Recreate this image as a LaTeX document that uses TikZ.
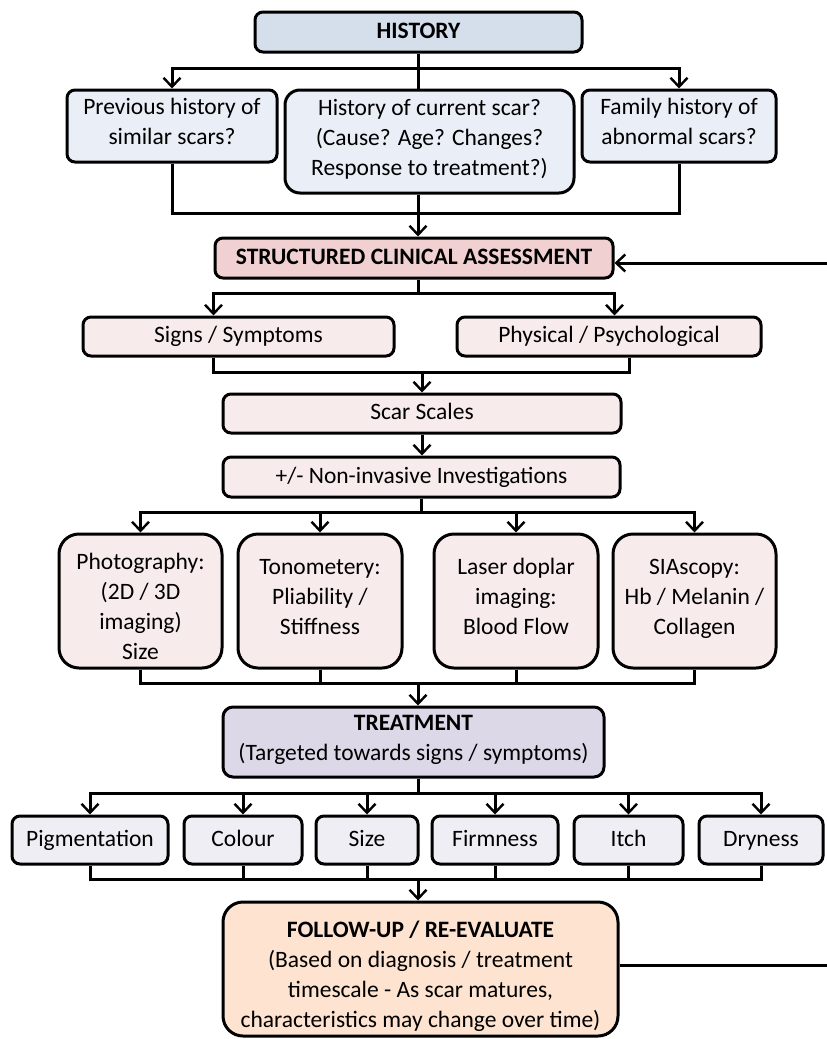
\documentclass[tikz,border=0pt]{standalone}
\usepackage{fontspec}
\setmainfont{Carlito}
\usepackage{tikz}
\usetikzlibrary{arrows.meta}

\definecolor{histhead}{HTML}{D5DFEC}
\definecolor{histsub}{HTML}{EAEFF7}
\definecolor{assesshead}{HTML}{F0D0D0}
\definecolor{assesssub}{HTML}{F7EBEB}
\definecolor{treathead}{HTML}{DDD8E8}
\definecolor{treatsub}{HTML}{EFEEF5}
\definecolor{followup}{HTML}{FDE3D0}

\newcommand{\lowline}{\rule{0pt}{35pt}}

\begin{document}
\begin{tikzpicture}[
            x=1pt, y=-1pt,
            box/.style={draw=black, line width=3pt, rounded corners=8pt, align=center, inner sep=0pt, font=\fontsize{23.5}{30}\selectfont, execute at begin node={\strut}, execute at end node={\strut}},
            bigbox/.style={box, rounded corners=20pt},
            headbox/.style={box, font=\fontsize{23.5}{30}\selectfont\bfseries},
            link/.style={line width=3pt, line join=miter},
            arr/.style={link, -{Straight Barb[length=9pt, width=17pt, line width=2.4pt]}},
            twoarr/.style={link, {Straight Barb[length=9pt, width=17pt, line width=2.4pt]}-{Straight Barb[length=9pt, width=17pt, line width=2.4pt]}}
        ]
            \useasboundingbox (0,0) rectangle (827,1039);

            % history
            \node[headbox, fill=histhead, minimum width=327pt, minimum height=40pt] (hist) at (418.5, 32) {HISTORY};
            \node[box, fill=histsub, minimum width=210pt, minimum height=72pt] (prev) at (172, 126) {Previous history of\\similar scars?};
            \node[box, fill=histsub, rounded corners=15pt, minimum width=289pt, minimum height=103pt] (curr) at (429.5, 141.5) {History of current scar?\\(Cause? Age? Changes?\\Response to treatment?)};
            \node[box, fill=histsub, minimum width=194pt, minimum height=72pt] (fam) at (679, 126) {Family history of\\abnormal scars?};

            % assessment
            \node[headbox, fill=assesshead, minimum width=398pt, minimum height=40pt] (assess) at (414, 258) {STRUCTURED CLINICAL ASSESSMENT};
            \node[box, fill=assesssub, minimum width=311pt, minimum height=39pt] (signs) at (238.5, 336.5) {Signs / Symptoms};
            \node[box, fill=assesssub, minimum width=304pt, minimum height=39pt] (phys) at (609, 336.5) {Physical / Psychological};
            \node[box, fill=assesssub, minimum width=398pt, minimum height=39pt] (scales) at (422, 413.5) {Scar Scales};
            \node[box, fill=assesssub, minimum width=397pt, minimum height=40pt] (invest) at (421.5, 477) {+/- Non-invasive Investigations};

            % investigations
            \node[bigbox, fill=assesssub, minimum width=163pt, minimum height=134pt] (photo) at (140.5, 601) {\lowline Photography:\\(2D / 3D\\imaging)\\Size};
            \node[bigbox, fill=assesssub, minimum width=164pt, minimum height=134pt] (tono) at (320, 601) {Tonometery:\\Pliability /\\Stiffness};
            \node[bigbox, fill=assesssub, minimum width=164pt, minimum height=134pt] (laser) at (516, 601) {Laser doplar\\imaging:\\Blood Flow};
            \node[bigbox, fill=assesssub, minimum width=163pt, minimum height=134pt] (sia) at (694.5, 601) {SIAscopy:\\Hb / Melanin /\\Collagen};

            % treatment
            \node[box, fill=treathead, rounded corners=10pt, minimum width=381pt, minimum height=70pt] (treat) at (413.5, 742) {\textbf{TREATMENT}\\(Targeted towards signs / symptoms)};
            \node[box, fill=treatsub, minimum width=156pt, minimum height=48pt] (pig) at (90, 840) {Pigmentation};
            \node[box, fill=treatsub, minimum width=118pt, minimum height=48pt] (colour) at (243, 840) {Colour};
            \node[box, fill=treatsub, minimum width=102pt, minimum height=48pt] (size) at (367, 840) {Size};
            \node[box, fill=treatsub, minimum width=126pt, minimum height=48pt] (firm) at (495, 840) {Firmness};
            \node[box, fill=treatsub, minimum width=109pt, minimum height=48pt] (itch) at (628.5, 840) {Itch};
            \node[box, fill=treatsub, minimum width=124pt, minimum height=48pt] (dry) at (761, 840) {Dryness};

            % follow-up
            \node[bigbox, fill=followup, minimum width=395pt, minimum height=134pt] (follow) at (420.5, 969) {\lowline\textbf{FOLLOW-UP / RE-EVALUATE}\\(Based on diagnosis / treatment\\timescale - As scar matures,\\characteristics may change over time)};

            % junction rows
            \coordinate (spine) at (418, 0);
            \coordinate (row1) at (0, 68);
            \coordinate (row2) at (0, 213);
            \coordinate (row3) at (0, 293);
            \coordinate (row4) at (0, 372);
            \coordinate (row5) at (0, 512);
            \coordinate (row6) at (0, 683);
            \coordinate (row7) at (0, 793);
            \coordinate (row8) at (0, 879);
            \coordinate (physdown) at (629, 372);
            \coordinate (loopbot) at (827, 965);
            \coordinate (looptop) at (827, 263);

            % history links
            \draw[link] (spine |- hist.south) -- (spine |- curr.north);
            \draw[twoarr] (prev.north) -- (prev.north |- row1) -- (fam.north |- row1) -- (fam.north);
            \draw[link] (prev.south) -- (prev.south |- row2) -- (fam.south |- row2) -- (fam.south);
            \draw[arr] (spine |- curr.south) -- (spine |- assess.north);

            % assessment links
            \draw[link] (spine |- assess.south) -- (spine |- row3);
            \draw[twoarr] (assess.south west |- signs.north) -- (assess.south west |- row3) -- (assess.south east |- row3) -- (assess.south east |- phys.north);
            \draw[link] (assess.south west |- signs.south) -- (assess.south west |- row4) -- (physdown) -- (physdown |- phys.south);
            \draw[arr] (scales.north |- row4) -- (scales.north);
            \draw[arr] (scales.south) -- (scales.south |- invest.north);

            % investigation links
            \draw[link] (invest.south) -- (invest.south |- row5);
            \draw[twoarr] (photo.north) -- (photo.north |- row5) -- (sia.north |- row5) -- (sia.north);
            \foreach \n in {tono, laser}{
                \draw[arr] (\n.north |- row5) -- (\n.north);
                \draw[link] (\n.south) -- (\n.south |- row6);
            }
            \draw[link] (photo.south) -- (photo.south |- row6) -- (sia.south |- row6) -- (sia.south);
            \draw[arr] (spine |- row6) -- (spine |- treat.north);

            % treatment links
            \draw[link] (spine |- treat.south) -- (spine |- row7);
            \draw[twoarr] (pig.north) -- (pig.north |- row7) -- (dry.north |- row7) -- (dry.north);
            \foreach \n in {colour, size, firm, itch}{
                \draw[arr] (\n.north |- row7) -- (\n.north);
                \draw[link] (\n.south) -- (\n.south |- row8);
            }
            \draw[link] (pig.south) -- (pig.south |- row8) -- (dry.south |- row8) -- (dry.south);
            \draw[arr] (spine |- row8) -- (spine |- follow.north);

            % re-evaluate loop
            \draw[link] (follow.east |- loopbot) -- (loopbot);
            \draw[arr] (looptop) -- (looptop -| assess.east);

        \end{tikzpicture}
\end{document}
